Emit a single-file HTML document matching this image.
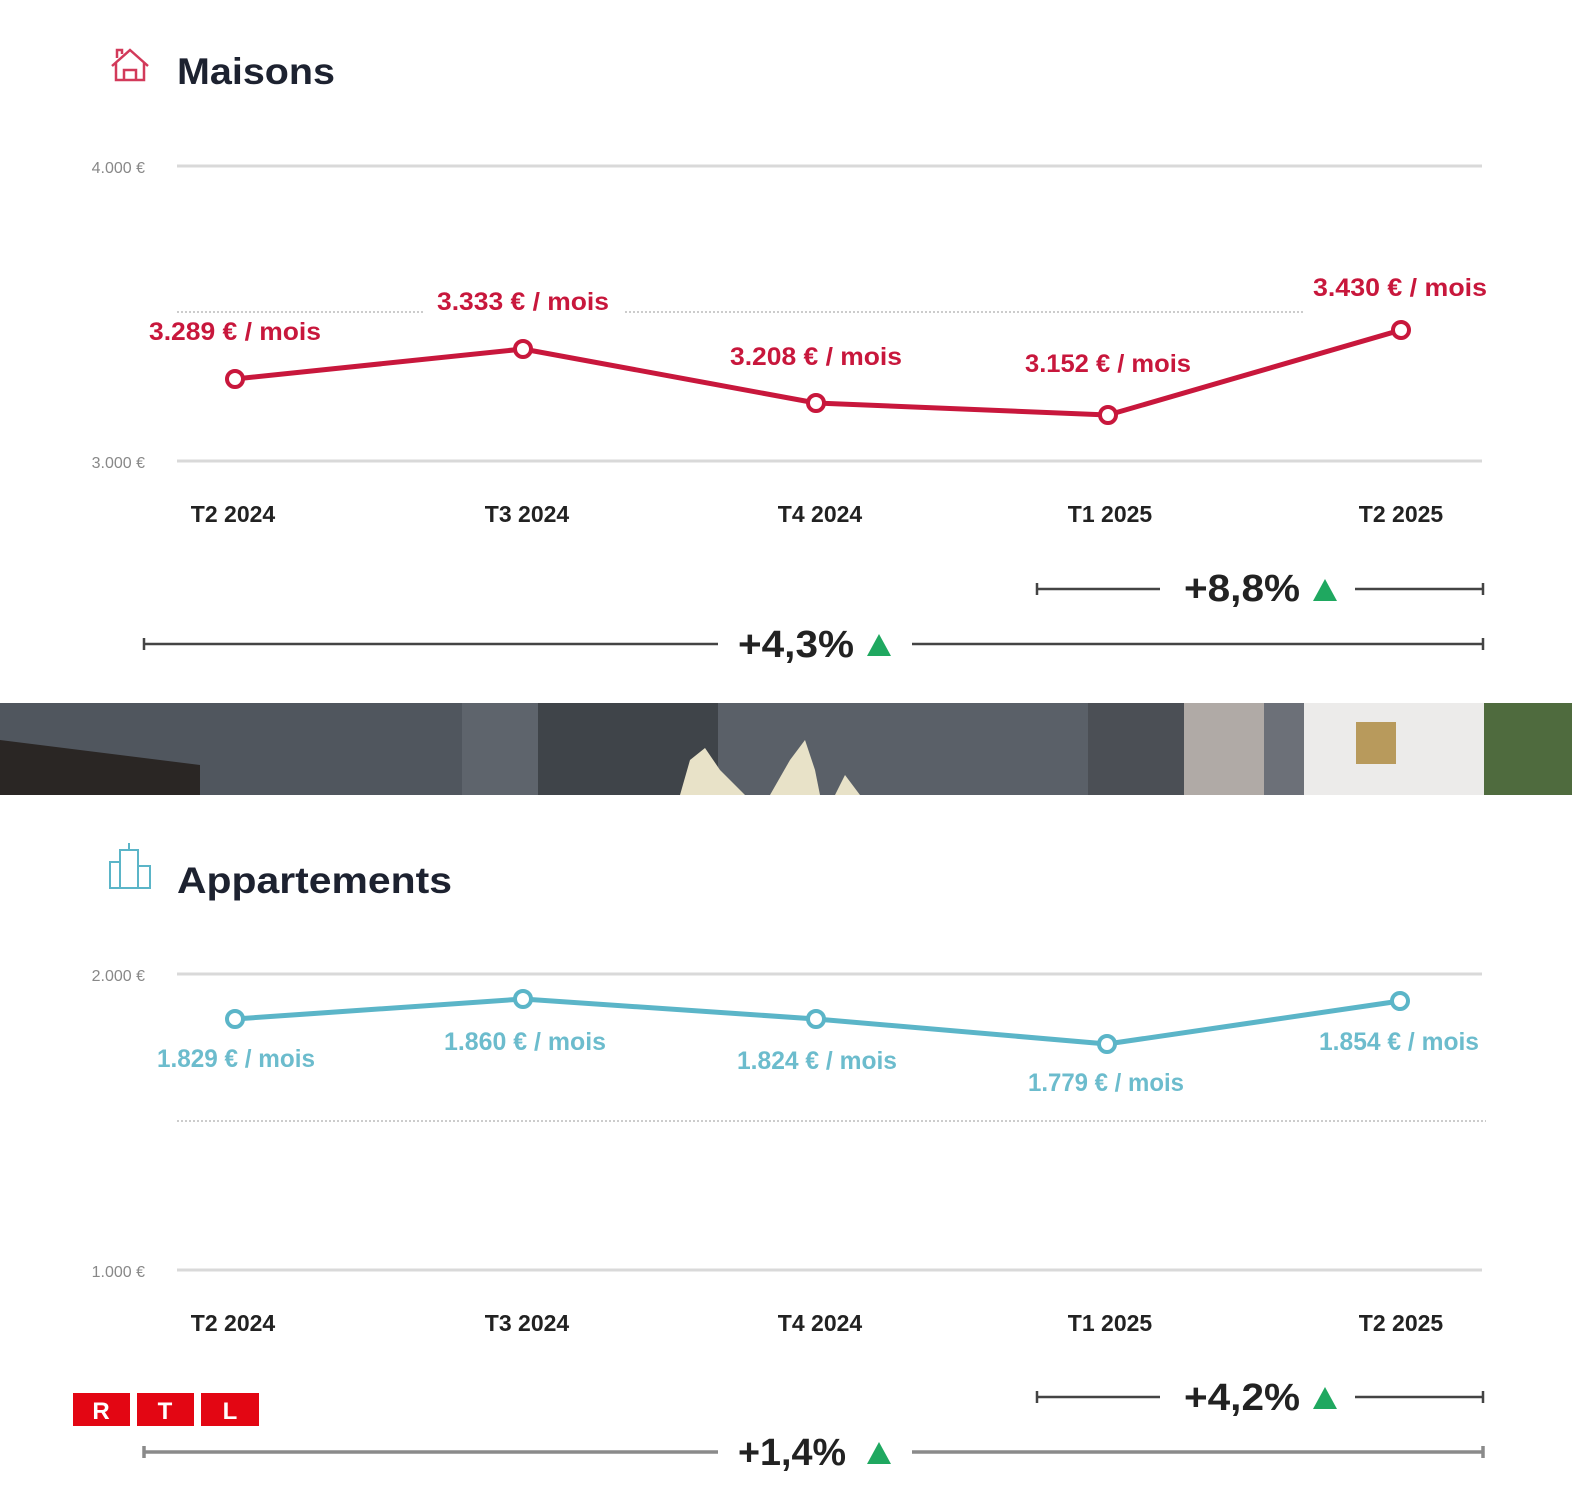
<!DOCTYPE html>
<html><head><meta charset="utf-8"><style>
html,body{margin:0;padding:0;background:#fff;}
svg{display:block;font-family:"Liberation Sans",sans-serif;}
</style></head><body>
<svg width="1572" height="1503" viewBox="0 0 1572 1503" xmlns="http://www.w3.org/2000/svg">
<rect width="1572" height="1503" fill="#fff"/>
<g fill="none" stroke="#d23a5a" stroke-width="2.5">
<path d="M112 66 L130 50 L148 66 M116 63 V80 H144 V63 M124 80 V70 H136 V80 M117 58 V50 H122 V54"/>
</g>
<text x="177" y="84" font-size="37" font-weight="bold" fill="#1d2230" textLength="158" lengthAdjust="spacingAndGlyphs">Maisons</text>
<g stroke="#d9d9d9" stroke-width="3"><line x1="177" y1="166" x2="1482" y2="166"/><line x1="177" y1="461" x2="1482" y2="461"/>
<line x1="177" y1="974" x2="1482" y2="974"/><line x1="177" y1="1270" x2="1482" y2="1270"/></g>
<g stroke="#ccc" stroke-width="2" stroke-dasharray="2 2"><line x1="177" y1="312" x2="1486" y2="312"/><line x1="177" y1="1121" x2="1486" y2="1121"/></g>
<g font-size="16" fill="#888" text-anchor="end"><text x="145" y="173">4.000 €</text><text x="145" y="468">3.000 €</text><text x="145" y="981">2.000 €</text><text x="145" y="1277">1.000 €</text></g>
<g fill="#fff"><rect x="425" y="300" width="200" height="20"/><rect x="1305" y="300" width="190" height="20"/></g>
<polyline points="235,379 523,349 816,403 1108,415 1401,330" fill="none" stroke="#c8173c" stroke-width="5" stroke-linejoin="round"/>
<g fill="#fff" stroke="#c8173c" stroke-width="4"><circle cx="235" cy="379" r="8"/><circle cx="523" cy="349" r="8"/><circle cx="816" cy="403" r="8"/><circle cx="1108" cy="415" r="8"/><circle cx="1401" cy="330" r="8"/></g>
<g font-size="25" font-weight="bold" fill="#c8173c" text-anchor="middle" lengthAdjust="spacingAndGlyphs">
<text x="235" y="340" textLength="172" lengthAdjust="spacingAndGlyphs">3.289 € / mois</text><text x="523" y="310" textLength="172" lengthAdjust="spacingAndGlyphs">3.333 € / mois</text><text x="816" y="365" textLength="172" lengthAdjust="spacingAndGlyphs">3.208 € / mois</text><text x="1108" y="372" textLength="166" lengthAdjust="spacingAndGlyphs">3.152 € / mois</text><text x="1400" y="296" textLength="174" lengthAdjust="spacingAndGlyphs">3.430 € / mois</text></g>
<g font-size="23" font-weight="bold" fill="#222" text-anchor="middle">
<text x="233" y="522">T2 2024</text><text x="527" y="522">T3 2024</text><text x="820" y="522">T4 2024</text><text x="1110" y="522">T1 2025</text><text x="1401" y="522">T2 2025</text>
<text x="233" y="1331">T2 2024</text><text x="527" y="1331">T3 2024</text><text x="820" y="1331">T4 2024</text><text x="1110" y="1331">T1 2025</text><text x="1401" y="1331">T2 2025</text></g>
<g stroke="#444" stroke-width="2.5">
<line x1="1037" y1="589" x2="1160" y2="589"/><line x1="1355" y1="589" x2="1483" y2="589"/><line x1="1037" y1="583" x2="1037" y2="595"/><line x1="1483" y1="583" x2="1483" y2="595"/>
<line x1="144" y1="644" x2="718" y2="644"/><line x1="912" y1="644" x2="1483" y2="644"/><line x1="144" y1="638" x2="144" y2="650"/><line x1="1483" y1="638" x2="1483" y2="650"/>
<line x1="1037" y1="1397" x2="1160" y2="1397"/><line x1="1355" y1="1397" x2="1483" y2="1397"/><line x1="1037" y1="1391" x2="1037" y2="1403"/><line x1="1483" y1="1391" x2="1483" y2="1403"/></g>
<g stroke="#8a8a8a" stroke-width="3.5">
<line x1="144" y1="1452" x2="718" y2="1452"/><line x1="912" y1="1452" x2="1483" y2="1452"/><line x1="144" y1="1446" x2="144" y2="1458"/><line x1="1483" y1="1446" x2="1483" y2="1458"/></g>
<g font-size="38" font-weight="bold" fill="#222">
<text x="1184" y="601" textLength="116" lengthAdjust="spacingAndGlyphs">+8,8%</text><text x="738" y="657" textLength="116" lengthAdjust="spacingAndGlyphs">+4,3%</text><text x="1184" y="1410" textLength="116" lengthAdjust="spacingAndGlyphs">+4,2%</text><text x="738" y="1465" textLength="108" lengthAdjust="spacingAndGlyphs">+1,4%</text></g>
<g fill="#1fa860"><path d="M1313 601 L1325 579 L1337 601Z"/><path d="M867 656 L879 634 L891 656Z"/><path d="M1313 1409 L1325 1387 L1337 1409Z"/><path d="M867 1464 L879 1442 L891 1464Z"/></g>
<rect x="0" y="703" width="1572" height="92" fill="#545a62"/>
<rect x="0" y="703" width="462" height="92" fill="#50565e"/>
<path d="M0 740 L200 765 V795 H0Z" fill="#2a2624"/>
<rect x="462" y="703" width="76" height="92" fill="#5e646c"/>
<rect x="538" y="703" width="180" height="92" fill="#3f4449"/>
<rect x="718" y="703" width="370" height="92" fill="#5a6068"/>
<rect x="1088" y="703" width="96" height="92" fill="#4b4f55"/>
<rect x="1184" y="703" width="80" height="92" fill="#b0aaa6"/>
<rect x="1264" y="703" width="40" height="92" fill="#6c7078"/>
<rect x="1304" y="703" width="180" height="92" fill="#ecebea"/>
<rect x="1356" y="722" width="40" height="42" fill="#b89a5c"/>
<rect x="1484" y="703" width="88" height="92" fill="#4f6b3e"/>
<g fill="#e8e2c8"><path d="M680 795 L690 760 L705 748 L720 770 L745 795Z"/><path d="M770 795 L790 760 L805 740 L815 770 L820 795Z"/><path d="M835 795 L845 775 L860 795Z"/></g>
<g fill="none" stroke="#5bb5c8" stroke-width="2"><rect x="110" y="862" width="10" height="26"/><rect x="120" y="850" width="18" height="38"/><rect x="138" y="866" width="12" height="22"/><line x1="129" y1="843" x2="129" y2="850"/></g>
<text x="177" y="893" font-size="37" font-weight="bold" fill="#1d2230" textLength="275" lengthAdjust="spacingAndGlyphs">Appartements</text>
<polyline points="235,1019 523,999 816,1019 1107,1044 1400,1001" fill="none" stroke="#5bb5c8" stroke-width="5" stroke-linejoin="round"/>
<g fill="#fff" stroke="#5bb5c8" stroke-width="4"><circle cx="235" cy="1019" r="8"/><circle cx="523" cy="999" r="8"/><circle cx="816" cy="1019" r="8"/><circle cx="1107" cy="1044" r="8"/><circle cx="1400" cy="1001" r="8"/></g>
<g font-size="25" font-weight="bold" fill="#6cbccd" text-anchor="middle">
<text x="236" y="1067" textLength="158" lengthAdjust="spacingAndGlyphs">1.829 € / mois</text><text x="525" y="1050" textLength="162" lengthAdjust="spacingAndGlyphs">1.860 € / mois</text><text x="817" y="1069" textLength="160" lengthAdjust="spacingAndGlyphs">1.824 € / mois</text><text x="1106" y="1091" textLength="156" lengthAdjust="spacingAndGlyphs">1.779 € / mois</text><text x="1399" y="1050" textLength="160" lengthAdjust="spacingAndGlyphs">1.854 € / mois</text></g>
<g><rect x="73" y="1393" width="57" height="33" fill="#e30613"/><rect x="137" y="1393" width="57" height="33" fill="#e30613"/><rect x="201" y="1393" width="58" height="33" fill="#e30613"/>
<g fill="#fff" font-size="24" font-weight="bold" text-anchor="middle"><text x="101" y="1419">R</text><text x="165" y="1419">T</text><text x="230" y="1419">L</text></g></g>
</svg>
</body></html>
